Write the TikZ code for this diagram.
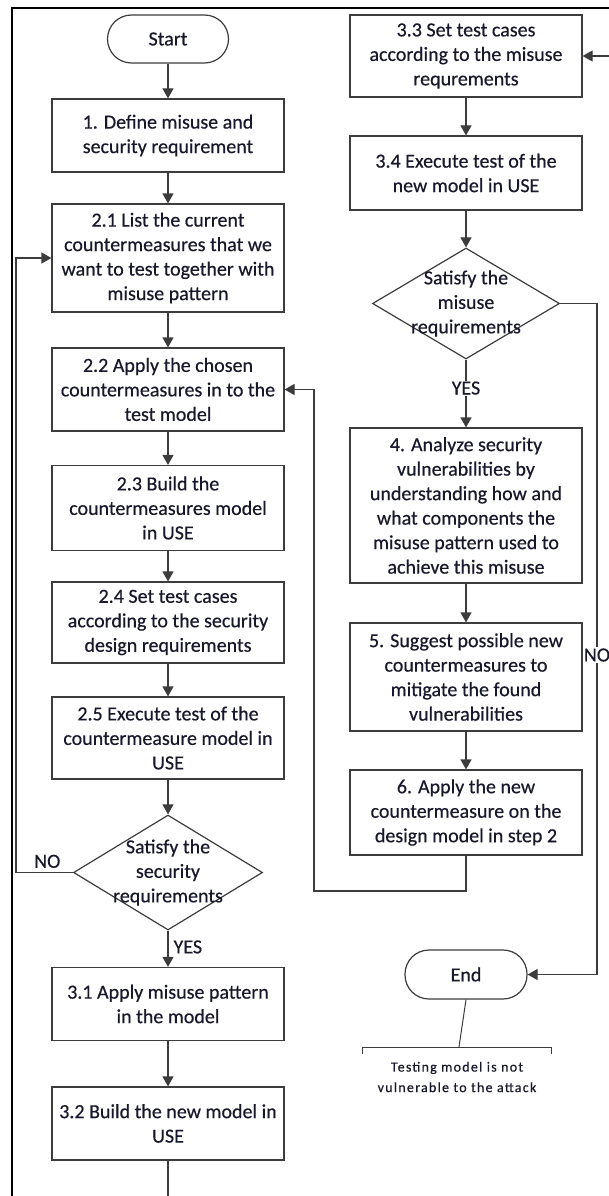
\documentclass[tikz,border=0pt]{standalone}
\usepackage{fontspec}
\setmainfont{Carlito}[FakeBold=0.4]
\usetikzlibrary{arrows.meta,shapes.geometric}
\definecolor{ink}{RGB}{24,24,44}
\definecolor{edge}{RGB}{60,60,60}
\begin{document}
\begin{tikzpicture}[x=1pt,y=-1pt,
  every node/.style={text=ink},
  box/.style={draw=edge,line width=1.2pt,fill=white,minimum width=232pt,inner sep=0pt,align=center,
    font=\fontsize{20}{24.5}\selectfont},
  term/.style={draw=edge,line width=1.2pt,rounded corners=24pt,minimum width=121pt,minimum height=48pt,
    inner sep=0pt,font=\fontsize{20}{22}\selectfont},
  dia/.style={draw=edge,line width=1.2pt,diamond,inner sep=0pt},
  dtext/.style={align=center,inner sep=0pt,font=\fontsize{20}{24.5}\selectfont},
  lbl/.style={inner sep=1pt,font=\fontsize{20}{22}\selectfont},
  link/.style={draw=edge,line width=1.2pt},
  arr/.style={link,-{Triangle[length=10pt,width=11pt]}}]
\useasboundingbox (0,0) rectangle (609,1196);
\fill[white] (0,0) rectangle (609,1196);
% outer frame
\draw[black,line width=2.2pt] (12,1200) -- (12,8) -- (612,8);

% left column
\node[term] (start) at (168,39) {Start};
\node[box,minimum height=73pt] (b1) at (168,135.5) {1. Define misuse and\\security requirement};
\node[box,minimum height=108pt] (b21) at (168,258) {2.1 List the current\\countermeasures that we\\want to test together with\\misuse pattern};
\node[box,minimum height=83pt] (b22) at (168,389.5) {2.2 Apply the chosen\\countermeasures in to the\\test model};
\node[box,minimum height=85pt] (b23) at (168,508) {2.3 Build the\\countermeasures model\\in USE};
\node[box,minimum height=81pt] (b24) at (168,622.5) {2.4 Set test cases\\according to the security\\design requirements};
\node[box,minimum height=82pt] (b25) at (168,738) {2.5 Execute test of the\\countermeasure model in\\USE};
\node[dia,minimum width=189pt,minimum height=115pt] (d1) at (168,872.5) {};
\node[dtext] (d1t) at (168,872.5) {Satisfy the\\security\\requirements};
\node[box,minimum height=73pt] (b31) at (168,1004) {3.1 Apply misuse pattern\\in the model};
\node[box,minimum height=73pt] (b32) at (168,1123.5) {3.2 Build the new model in\\USE};

% right column
\node[box,minimum height=82pt] (b33) at (466,56) {3.3 Set test cases\\according to the misuse\\requrements};
\node[box,minimum height=74pt] (b34) at (466,173) {3.4 Execute test of the\\new model in USE};
\node[dia,minimum width=187pt,minimum height=111pt] (d2) at (466,303.5) {};
\node[dtext] (d2t) at (466,303.5) {Satisfy the\\misuse\\requirements};
\node[box,minimum height=155pt] (b4) at (466,505.5) {4. Analyze security\\vulnerabilities by\\understanding how and\\what components the\\misuse pattern used to\\achieve this misuse};
\node[box,minimum height=108pt] (b5) at (466,677) {5. Suggest possible new\\countermeasures to\\mitigate the found\\vulnerabilities};
\node[box,minimum height=85pt] (b6) at (466,812.5) {6. Apply the new\\countermeasure on the\\design model in step 2};
\node[term,minimum width=122pt,minimum height=49pt] (end) at (466,974.5) {End};

% main flow
\draw[arr] (start) -- (b1);
\draw[arr] (b1) -- (b21);
\draw[arr] (b21) -- (b22);
\draw[arr] (b22) -- (b23);
\draw[arr] (b23) -- (b24);
\draw[arr] (b24) -- (b25);
\draw[arr] (b25) -- (d1);
\draw[arr] (d1) -- node[lbl,right=4pt,pos=0.45] (yes1) {YES} (b31);
\draw[arr] (b31) -- (b32);
\coordinate (down) at (168,1200);
\draw[link] (b32) -- (down);
\coordinate (feed) at (612,56);
\draw[arr] (feed) -- (b33);
\draw[arr] (b33) -- (b34);
\draw[arr] (b34) -- (d2);
\draw[arr] (d2) -- node[lbl,fill=white,pos=0.42] (yes2) {YES} (b4);
\draw[arr] (b4) -- (b5);
\draw[arr] (b5) -- (b6);

% NO branch of the security check
\coordinate (no1) at (16,872.5);
\draw[arr] (d1.west) -- node[lbl,above=3pt,pos=0.45] (nolbl1) {NO} (no1) |- (b21.west);
% NO branch of the misuse check
\coordinate (no2) at (597,303.5);
\draw[arr] (d2.east) -- (no2) |- (end.east);
\node[lbl,fill=white] (nolbl2) at (597,655) {NO};
% loop back from step 6 to step 2.2
\coordinate (loopa) at (466,891);
\coordinate (loopb) at (314,891);
\draw[arr] (b6.south) -- (loopa) -- (loopb) |- (b22.east);

% note attached to End
\coordinate (noteTop) at (459,1047);
\coordinate (noteL) at (362,1047);
\coordinate (noteR) at (551,1047);
\draw[edge,line width=1pt] (end.south) -- (noteTop);
\draw[edge,line width=1pt] ([yshift=-7pt]noteL) -- (noteL) -- (noteR) -- ([yshift=-7pt]noteR);
\node[align=center,inner sep=0pt,font=\fontsize{14}{20.5}\selectfont\addfontfeatures{LetterSpace=9}] (note) at (457,1077) {Testing model is not\\vulnerable to the attack};
\end{tikzpicture}
\end{document}
